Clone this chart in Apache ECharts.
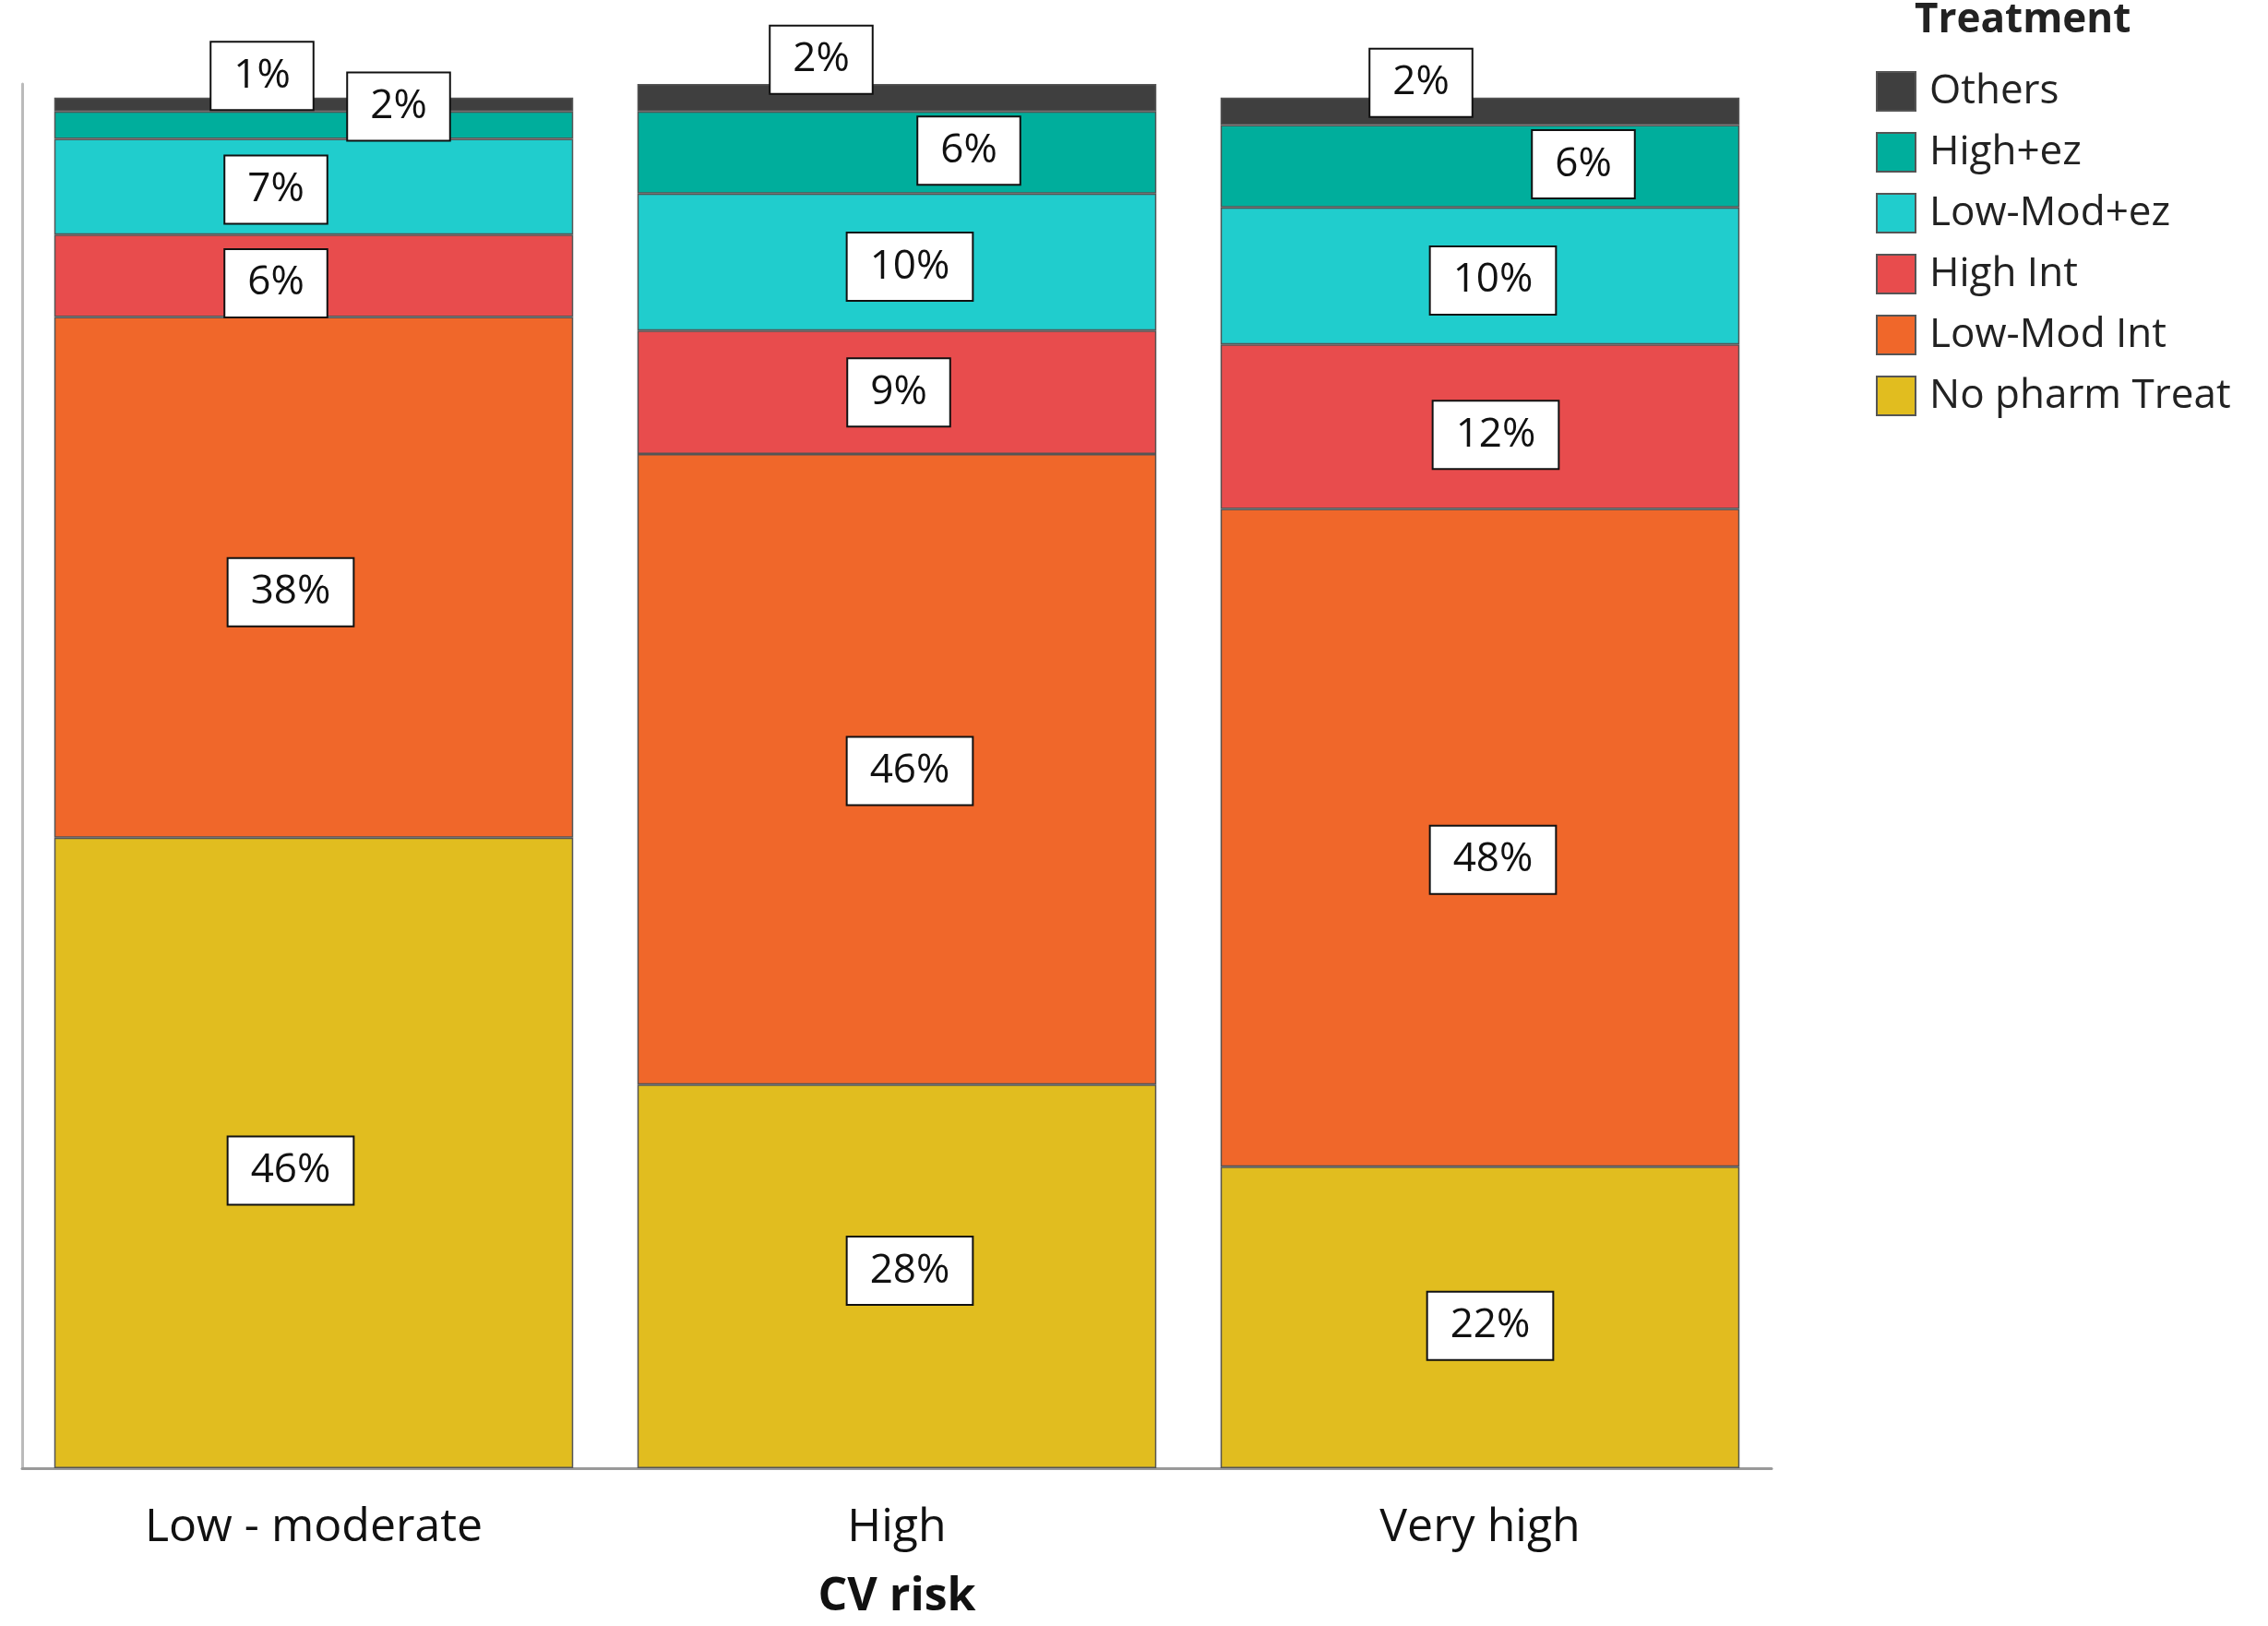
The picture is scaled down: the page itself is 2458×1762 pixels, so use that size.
<!DOCTYPE html>
<html><head><meta charset="utf-8">
<script src="https://cdn.jsdelivr.net/npm/echarts@6/dist/echarts.min.js"></script>
<style>html,body{margin:0;background:#fff}#c{width:2458px;height:1762px}</style>
</head><body><div id="c"></div>
<script>
const categories = ["Low - moderate", "High", "Very high"];
const noPharm = [46, 28, 22];
const lowModInt = [38, 46, 48];
const highInt = [6, 9, 12];
const lowModEz = [7, 10, 10];
const highEz = [2, 6, 6];
const others = [1, 2, 2];
// label offsets (px) per series per category
const offsets = {
  noPharm: [[-25,19],[14,-6],[11,9]],
  lowModInt: [[-25,16],[14,2],[14,24]],
  highInt: [[-41,8],[2,0],[17,9]],
  lowModEz: [[-41,3],[14,5],[14,5]],
  highEz: [[92,-20],[78,-2],[112,-2]],
  others: [[-56,-31],[-82,-41],[-64,-31]]
};
const S = [
  ["No pharm Treat", noPharm, "#E1BD1F", "noPharm"],
  ["Low-Mod Int", lowModInt, "#F0672A", "lowModInt"],
  ["High Int", highInt, "#E84C4D", "highInt"],
  ["Low-Mod+ez", lowModEz, "#20CDCD", "lowModEz"],
  ["High+ez", highEz, "#00AE9C", "highEz"],
  ["Others", others, "#3F3F3F", "others"]
];
const chart = echarts.init(document.getElementById('c'));
chart.setOption({
  animation: false,
  grid: {left: 24, right: 538, top: 91, bottom: 171},
  legend: {
    data: ["Others","High+ez","Low-Mod+ez","High Int","Low-Mod Int","No pharm Treat"],
    orient: 'vertical', left: 2028, top: 72, itemWidth: 42, itemHeight: 42, itemGap: 22,
    icon: 'rect', textStyle: {fontSize: 44, color: '#222', fontFamily: 'Open Sans', padding:[0,0,0,10]}
  },
  graphic: [{type:'text', left: 2075, top: 0, style:{text:'Treatment', font:'bold 44px "Open Sans"', fill:'#222'}}],
  xAxis: {
    type: 'category', data: categories, name: 'CV risk', nameLocation: 'middle', nameGap: 115,
    nameTextStyle: {fontSize: 50, fontWeight: 'bold', color: '#111', fontFamily: 'Open Sans'},
    axisLine: {lineStyle: {color: '#999', width: 3}}, axisTick: {show: false},
    axisLabel: {fontSize: 50, color: '#111', margin: 40, fontFamily: 'Open Sans'}
  },
  yAxis: {type: 'value', min: 0, max: 101, splitLine: {show: false}, axisLabel: {show: false},
    axisLine: {show: true, lineStyle: {color: '#bbb', width: 3}}, axisTick: {show: false}},
  series: S.map(([name, vals, color, key]) => ({
    name, type: 'bar', stack: 'a', barWidth: '89%',
    itemStyle: {color, borderColor: '#555', borderWidth: 1.5},
    data: vals.map((v, i) => ({value: v, label: {offset: offsets[key][i]}})),
    label: {show: true, position: 'inside', formatter: '{c}%', fontSize: 44, color: '#111',
      fontFamily: 'Open Sans', backgroundColor: '#fff', borderColor: '#111', borderWidth: 2,
      padding: [16, 24, 12, 24]}
  }))
});
</script></body></html>
